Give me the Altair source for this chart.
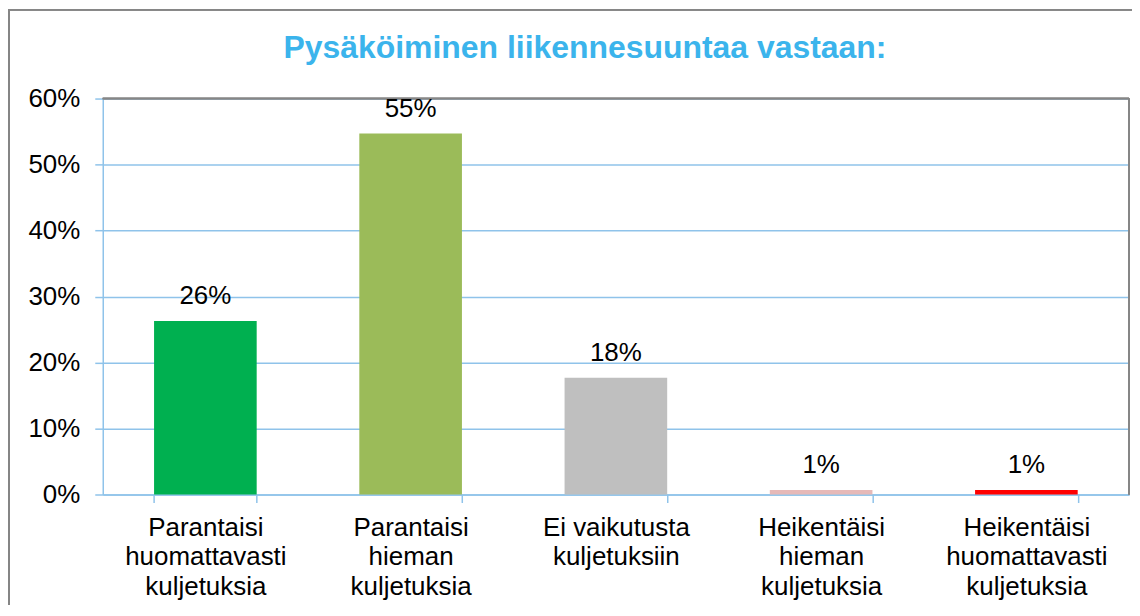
import altair as alt
import pandas as pd

categories = [
    "Parantaisi\nhuomattavasti\nkuljetuksia",
    "Parantaisi\nhieman\nkuljetuksia",
    "Ei vaikutusta\nkuljetuksiin",
    "Heikentäisi\nhieman\nkuljetuksia",
    "Heikentäisi\nhuomattavasti\nkuljetuksia",
]
values = [0.263, 0.547, 0.177, 0.007, 0.007]
colors = ["#00B050", "#9BBB59", "#BFBFBF", "#E6B9B8", "#FF0000"]
title_text = ["Pysäköiminen liikennesuuntaa vastaan:"]

df = pd.DataFrame({"cat": categories, "val": values})
tdf = pd.DataFrame({"t": title_text})

W, H = 1029, 397
FONT = "Liberation Sans"
GRID = "#8FC3EA"
BORDER = "#868686"

base = alt.Chart(df)

bars = base.mark_bar().encode(
    x=alt.X(
        "cat:N",
        sort=None,
        title=None,
        scale=alt.Scale(paddingInner=0.5, paddingOuter=0.25),
        axis=alt.Axis(
            labelAngle=0,
            labelExpr="split(datum.label, '\\n')",
            labelFont=FONT,
            labelFontSize=26,
            labelColor="#000000",
            labelLineHeight=29.5,
            labelPadding=12,
            labelBaseline="top",
            tickBand="extent",
            tickSize=8,
            tickColor=GRID,
            tickWidth=1.5,
            domainColor=GRID,
            domainWidth=1.5,
            grid=False,
        ),
    ),
    y=alt.Y(
        "val:Q",
        title=None,
        scale=alt.Scale(domain=[0, 0.6], nice=False),
        axis=alt.Axis(
            format=".0%",
            values=[0, 0.1, 0.2, 0.3, 0.4, 0.5, 0.6],
            labelFont=FONT,
            labelFontSize=26,
            labelColor="#000000",
            labelPadding=15,
            tickSize=8,
            tickColor=GRID,
            tickWidth=1.5,
            domainColor=GRID,
            domainWidth=1.5,
            gridColor=GRID,
            gridWidth=1.5,
        ),
    ),
    color=alt.Color(
        "cat:N",
        sort=None,
        scale=alt.Scale(domain=categories, range=colors),
        legend=None,
    ),
)

labels = base.mark_text(
    font=FONT, fontSize=26, color="#000000", baseline="alphabetic", dy=-17
).encode(
    x=alt.X("cat:N", sort=None),
    y=alt.Y("val:Q"),
    text=alt.Text("val:Q", format=".0%"),
)

title = alt.Chart(tdf).mark_text(
    font=FONT,
    fontSize=32,
    fontWeight="bold",
    color="#3BB4EC",
    align="center",
    baseline="alphabetic",
).encode(
    x=alt.value(W / 2 - 31), y=alt.value(-41), text="t:N"
)

top_rule = base.mark_rule(color=BORDER, strokeWidth=1.5).encode(
    x=alt.value(0), x2=alt.value(W), y=alt.value(0)
)
right_rule = base.mark_rule(color=BORDER, strokeWidth=1.5).encode(
    x=alt.value(W), y=alt.value(0), y2=alt.value(H)
)
outer = base.mark_rect(
    fill="transparent", stroke=BORDER, strokeWidth=1.5, clip=False
).encode(
    x=alt.value(-94), x2=alt.value(1300), y=alt.value(-89), y2=alt.value(800)
)

chart = (
    alt.layer(outer, bars, top_rule, right_rule, labels, title)
    .properties(
        width=W,
        height=H,
        padding={"left": 95, "top": 90, "right": 3, "bottom": 110},
        autosize=alt.AutoSizeParams(type="none"),
    )
    .configure_view(stroke=None)
    .configure_axis(gridOpacity=1)
)

chart.save("out.html", embed_options={"renderer": "svg", "actions": False})
